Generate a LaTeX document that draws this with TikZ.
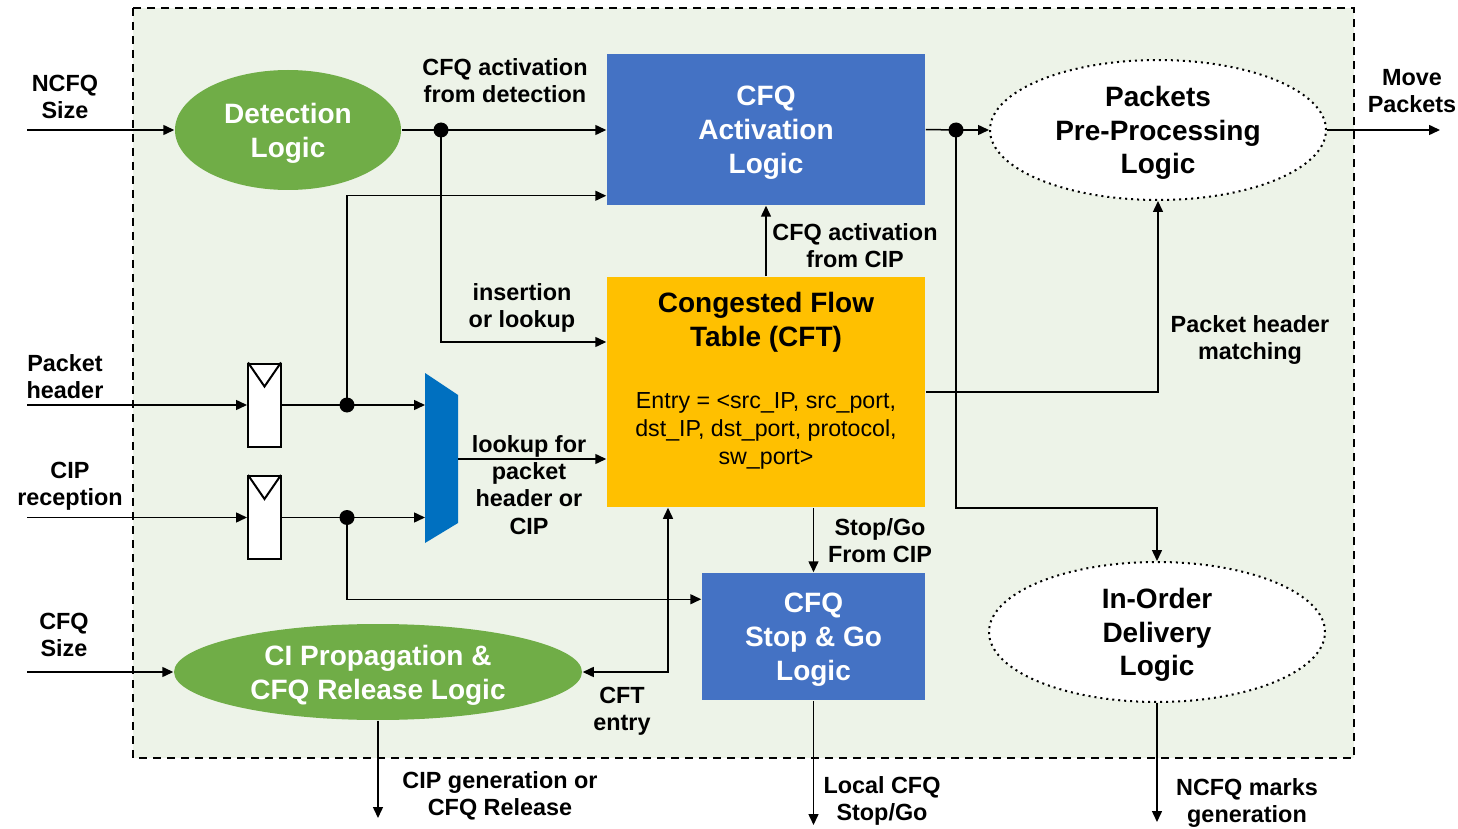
\documentclass[tikz,border=0pt]{standalone}
\usepackage{fontspec}
\setmainfont{Liberation Sans}
\usetikzlibrary{shapes.geometric,arrows.meta,calc}
\definecolor{framebg}{HTML}{EDF3E8}
\definecolor{nodegreen}{HTML}{70AD47}
\definecolor{nodeblue}{HTML}{4472C4}
\definecolor{cftyellow}{HTML}{FFC000}
\definecolor{muxblue}{HTML}{0070C0}
\begin{document}
\begin{tikzpicture}[x=0.5pt,y=-0.5pt,
  line width=0.75pt,
  arr/.style={-{Triangle[length=5.5pt,width=5pt]}},
  lbl/.style={font=\fontsize{11.7}{13.6}\selectfont\bfseries, align=center, inner sep=0},
  big/.style={font=\fontsize{14}{16.8}\selectfont\bfseries, align=center, inner sep=0},
  txt/.style={big, yshift=-1.6pt},
  greenell/.style={ellipse, fill=nodegreen, draw=none, inner sep=0},
  whiteell/.style={ellipse, fill=white, draw=black, dotted, line width=1pt, inner sep=0, minimum width=168pt, minimum height=70pt},
  bluebox/.style={rectangle, fill=nodeblue, draw=none, inner sep=0},
  reg/.style={rectangle, fill=white, draw=black, line width=1pt, minimum width=16.5pt, minimum height=41.5pt, inner sep=0},
  dot/.style={circle, fill=black, inner sep=0, minimum size=7.5pt}
]
\useasboundingbox (0,0) rectangle (1458,829);
% frame
\draw[dash pattern=on 4pt off 3pt, line width=1pt, fill=framebg] (133,8) rectangle (1354,758);

% main nodes
\node[greenell, minimum width=113pt, minimum height=60pt] (detect) at (288,130) {};
\node[txt, text=white] (detectT) at (detect.center) {Detection\\Logic};
\node[bluebox, minimum width=159pt, minimum height=75.5pt] (act) at (766,129.5) {};
\node[txt, text=white] (actT) at (act.center) {CFQ\\Activation\\Logic};
\node[whiteell] (pre) at (1158,130) {};
\node[txt] (preT) at (pre.center) {Packets\\Pre-Processing\\Logic};
\node[rectangle, fill=cftyellow, minimum width=159pt, minimum height=115pt, inner sep=0] (cft) at (766,392) {};
\node[txt] (cfttitle) at (766,319) {Congested Flow\\Table (CFT)};
\node[font=\fontsize{11.6}{14}\selectfont, align=center, inner sep=0, yshift=-1.4pt] (cftentry) at (766,428) {Entry = <src\_IP, src\_port,\\dst\_IP, dst\_port, protocol,\\sw\_port>};
\node[bluebox, minimum width=111.5pt, minimum height=63.5pt] (sg) at (813.5,636.5) {};
\node[txt, text=white] (sgT) at (sg.center) {CFQ\\Stop \& Go\\Logic};
\node[whiteell] (iod) at (1157,632) {};
\node[txt] (iodT) at (iod.center) {In-Order\\Delivery\\Logic};
\node[greenell, minimum width=204pt, minimum height=48pt] (ci) at (378,672) {};
\node[txt, text=white] (ciT) at (ci.center) {CI Propagation \&\\CFQ Release Logic};

% registers
\node[reg] (reg1) at (264.5,405) {};
\node[reg] (reg2) at (264.5,517.5) {};
\foreach \r in {reg1,reg2}{
  \draw[line width=1pt] ([xshift=0.5pt]\r.north west) -- ([yshift=-12pt]\r.north) -- ([xshift=-0.5pt]\r.north east);
}

% mux
\fill[muxblue] (425,373) -- (458,395) -- (458,523) -- (425,543) -- cycle;
\coordinate (muxin1) at (425,405);
\coordinate (muxin2) at (425,517.5);
\coordinate (muxout) at (458,459);

% dots
\node[dot] (d1) at (441,130) {};
\node[dot] (d2) at (347,405) {};
\node[dot] (d3) at (347,517.5) {};
\node[dot] (d4) at (956,130) {};

% free ends
\coordinate (inNCFQ) at (27,130);
\coordinate (inPH) at (27,405);
\coordinate (inCIP) at (27,517.5);
\coordinate (inCFQ) at (27,672);
\coordinate (outMove) at (1440,130);
\coordinate (outCIP) at (378,818);
\coordinate (outLocal) at (813.5,825);
\coordinate (outNCFQ) at (1157,822);

% connectors
\draw[arr] (inNCFQ) -- (detect.west);
\draw (detect.east) -- (d1.center);
\draw[arr] (d1.center) -- (d1 -| act.west);
\draw[arr] (d1.center) |- ([yshift=25pt]cft.west);
\draw[arr] (inPH) -- (reg1.west);
\draw (reg1.east) -- (d2.center);
\draw[arr] (d2.center) -- (muxin1);
\draw[arr] (d2.center) |- ([yshift=5pt]act.south west);
\draw[arr] (inCIP) -- (reg2.west);
\draw (reg2.east) -- (d3.center);
\draw[arr] (d3.center) -- (muxin2);
\draw[arr] (d3.center) |- ([yshift=-13.5pt]sg.north west);
\draw[arr] (muxout) -- (muxout -| cft.west);
\draw[arr] (cft.north) -- (act.south);
\draw (act.east) -- (d4.center);
\draw[arr] (d4.center) -- (pre.west);
\draw[arr] (d4.center) -- (d4 |- cft.south) -| (iod.north);
\draw[arr] (cft.east) -| (pre.south);
\draw[arr] (pre.east) -- (outMove);
\draw[arr] (sg.north |- cft.south) -- (sg.north);
\draw[arr] (sg.south) -- (outLocal);
\draw[arr] (iod.south) -- (outNCFQ);
\draw[arr] (inCFQ) -- (ci.west);
\draw[{Triangle[length=5.5pt,width=5pt]}-{Triangle[length=5.5pt,width=5pt]}] (ci.east) -| ([xshift=-49pt]cft.south);
\draw[arr] (ci.south) -- (outCIP);

% labels
\node[lbl] (lNCFQ) at (65,97) {NCFQ\\Size};
\node[lbl] (lActDet) at (505,81) {CFQ activation\\from detection};
\node[lbl] (lIns) at (522,308) {insertion\\or lookup};
\node[lbl] (lPH) at (65,377) {Packet\\header};
\node[lbl] (lCIP) at (70,486) {CIP\\reception};
\node[lbl] (lLook) at (529,485) {lookup for\\packet\\header or\\CIP};
\node[lbl] (lActCIP) at (855,246) {CFQ activation\\from CIP};
\node[lbl] (lMatch) at (1250,340) {Packet header\\matching};
\node[lbl] (lMove) at (1412,91) {Move\\Packets};
\node[lbl] (lSG) at (880,541) {Stop/Go\\From CIP};
\node[lbl] (lCFQ) at (64,635) {CFQ\\Size};
\node[lbl] (lEntry) at (622,711) {CFT\\entry};
\node[lbl] (lGen) at (500,796) {CIP generation or\\CFQ Release};
\node[lbl] (lLocal) at (882,801) {Local CFQ\\Stop/Go};
\node[lbl] (lMarks) at (1247,803) {NCFQ marks\\generation};
\end{tikzpicture}
\end{document}
